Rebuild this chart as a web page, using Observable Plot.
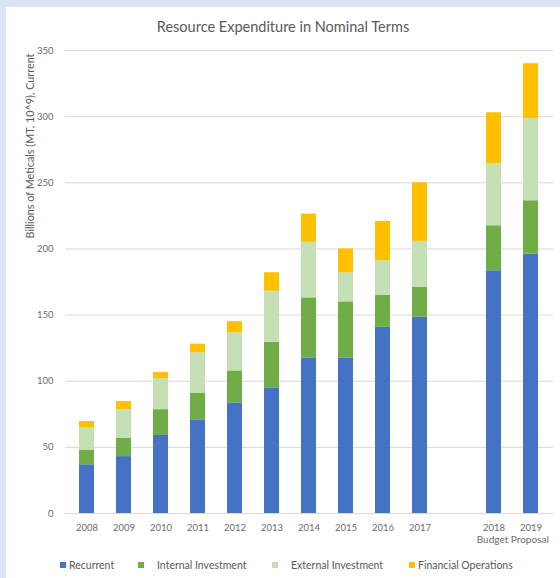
<!DOCTYPE html>
<html>
<head>
<meta charset="utf-8">
<script src="https://cdn.jsdelivr.net/npm/d3@7"></script>
<script src="https://cdn.jsdelivr.net/npm/@observablehq/plot@0.6"></script>
<style>
  html, body { margin: 0; padding: 0; }
  body { width: 560px; height: 578px; background: #dce6f2; overflow: hidden; font-family: Lato, "Open Sans", sans-serif; }
  #panel { position: absolute; left: 6px; top: 7px; width: 554px; height: 571px; background: #ffffff; }
  #title { height: 35px; box-sizing: border-box; padding-top: 12px; line-height: 16px; text-align: center; font-size: 14.5px; color: #595959; }
  #chart svg { display: block; }
  #legend { position: relative; height: 28px; }
  .lm { position: absolute; width: 6px; height: 6px; top: 12px; }
  .lt { position: absolute; top: 8px; line-height: 14px; font-size: 10.5px; color: #595959; white-space: nowrap; }
</style>
</head>
<body>
<div id="panel">
  <div id="title"></div>
  <div id="chart"></div>
  <div id="legend"></div>
</div>
<script>
const chartTitle = "Resource Expenditure in Nominal Terms";
const yLabel = "Billions of Meticals (MT, 10^9), Current";
const budgetLabel = "Budget Proposal";
const years = ["2008","2009","2010","2011","2012","2013","2014","2015","2016","2017","2018","2019"];
const gapSlot = " ";
const xDomain = ["2008","2009","2010","2011","2012","2013","2014","2015","2016","2017", gapSlot, "2018","2019"];
const seriesNames = ["Recurrent", "Internal Investment", "External Investment", "Financial Operations"];
const seriesColors = ["#4472c4", "#70ad47", "#c5e0b4", "#ffc000"];
const recurrent          = [36.8, 43.0, 59.0, 70.8, 83.6, 95.0, 117.6, 117.6, 140.7, 148.3, 183.5, 196.0];
const internalInvestment = [11.2, 14.0, 19.5, 20.2, 24.2, 34.4, 45.4, 42.4, 24.3, 22.7, 34.0, 40.4];
const externalInvestment = [17.0, 21.3, 23.5, 30.4, 28.7, 38.6, 42.0, 21.8, 26.0, 34.7, 47.1, 62.2];
const financialOps       = [4.5, 6.3, 4.5, 6.6, 8.5, 14.0, 21.3, 18.2, 29.8, 44.3, 38.3, 41.4];
const yTicks = [0, 50, 100, 150, 200, 250, 300, 350];
const legendMarkerX = [54, 132, 266, 403];
const legendTextX = [63, 151, 285, 412];

const seriesValues = [recurrent, internalInvestment, externalInvestment, financialOps];
const rows = [];
seriesNames.forEach((s, i) => {
  years.forEach((yr, j) => rows.push({year: yr, series: s, value: seriesValues[i][j]}));
});

document.getElementById("title").textContent = chartTitle;

const font = "Lato, 'Open Sans', sans-serif";
const chart = Plot.plot({
  width: 554,
  height: 508,
  marginLeft: 59,
  marginRight: 7,
  marginTop: 8,
  marginBottom: 37,
  style: {fontFamily: font, fontSize: "9.5px", color: "#666", background: "transparent"},
  x: {type: "band", domain: xDomain, paddingInner: 0.59, paddingOuter: 0.295, align: 0.5, axis: null},
  y: {domain: [0, 350], axis: null},
  color: {domain: seriesNames, range: seriesColors},
  marks: [
    Plot.gridY(yTicks, {stroke: "#d9d9d9", strokeOpacity: 1, strokeWidth: 1}),
    Plot.barY(rows, {x: "year", y: "value", fill: "series", order: seriesNames}),
    Plot.axisY(yTicks, {tickSize: 0, tickPadding: 12, label: null, fill: "#6b6b6b", fontSize: 9.5}),
    Plot.axisX(years, {tickSize: 0, tickPadding: 11, label: null, fill: "#6b6b6b", fontSize: 9.5}),
    Plot.text([{year: "2018", label: budgetLabel}], {x: "year", text: "label", frameAnchor: "bottom", dx: 18.75, dy: 29, fill: "#6b6b6b", fontSize: 10}),
    Plot.text([yLabel], {text: d => d, frameAnchor: "top-left", rotate: -90, textAnchor: "end", dx: -39, dy: 3, fill: "#595959", fontSize: 10.8})
  ]
});
document.getElementById("chart").appendChild(chart);

const legend = document.getElementById("legend");
seriesNames.forEach((s, i) => {
  const m = document.createElement("div");
  m.className = "lm";
  m.style.left = legendMarkerX[i] + "px";
  m.style.background = seriesColors[i];
  legend.appendChild(m);
  const t = document.createElement("div");
  t.className = "lt";
  t.style.left = legendTextX[i] + "px";
  t.textContent = s;
  legend.appendChild(t);
});
</script>
</body>
</html>
